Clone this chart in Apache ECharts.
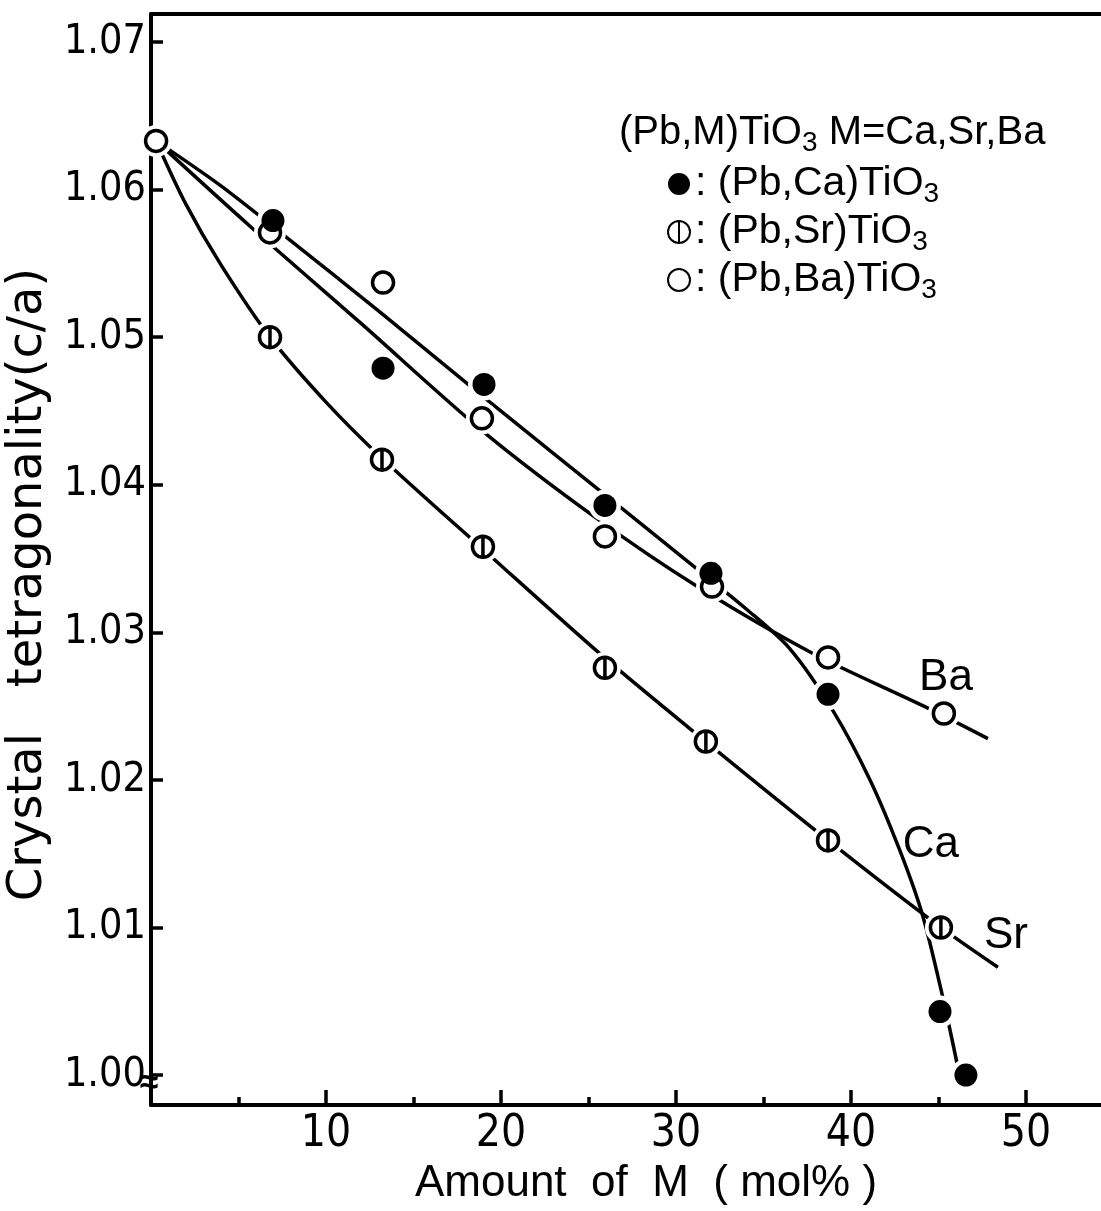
<!DOCTYPE html>
<html>
<head>
<meta charset="utf-8">
<title>(Pb,M)TiO3 tetragonality</title>
<script src="https://cdn.jsdelivr.net/npm/echarts@6/dist/echarts.min.js"></script>
<style>
  html, body { margin: 0; padding: 0; background: #fff; }
  #chart { width: 1101px; height: 1211px; }
</style>
</head>
<body>
<div id="chart"></div>
<script>
// measured points (mol %, c/a)
const caX = [6.97, 13.26, 19.03, 25.94, 32.0, 38.69, 45.09, 46.57];
const caY = [1.0579, 1.0479, 1.0468, 1.0386, 1.0340, 1.0258, 1.0043, 1.0000];
const srX = [6.8, 13.2, 18.97, 25.94, 31.71, 38.69, 45.14];
const srY = [1.0500, 1.0417, 1.0358, 1.0276, 1.0226, 1.0159, 1.0100];
const baX = [0.29, 6.8, 13.26, 18.91, 25.94, 32.06, 38.69, 45.31];
const baY = [1.0633, 1.0571, 1.0537, 1.0445, 1.0365, 1.0331, 1.0283, 1.0245];

// hand drawn guide curves
const caCurveX = [0.29, 3.94, 7.6, 13.09, 19.26, 26.91, 31.09, 34.0, 36.5, 38.97, 41.09, 42.8, 44.1, 45.3, 46.2];
const caCurveY = [1.0633, 1.0603, 1.0569, 1.0517, 1.0457, 1.0384, 1.0344, 1.0316, 1.0289, 1.0247, 1.0200, 1.0152, 1.0108, 1.0050, 1.0000];
const baCurveX = [0.29, 5.77, 11.94, 19.09, 25.49, 31.09, 37.77, 44.34, 47.83];
const baCurveY = [1.0633, 1.0574, 1.0510, 1.0435, 1.0377, 1.0332, 1.0286, 1.0249, 1.0228];
const srCurveX = [0.29, 2.0, 4.0, 6.8, 10.0, 13.2, 19.0, 25.9, 31.7, 38.7, 45.14, 48.4];
const srCurveY = [1.0633, 1.0590, 1.0549, 1.0500, 1.0456, 1.0418, 1.0356, 1.0283, 1.0226, 1.0159, 1.0100, 1.0073];

// axis ticks
const yTicks = [1.00, 1.01, 1.02, 1.03, 1.04, 1.05, 1.06, 1.07];
const xMajor = [10, 20, 30, 40, 50];
const xMinor = [5, 15, 25, 35, 45];

// curve tags
const tagNames = ['Ba', 'Ca', 'Sr'];
const tagX = [45.43, 44.57, 48.86];
const tagY = [1.0269, 1.0156, 1.0094];

const NAMES = ['(Pb,Ca)TiO3', '(Pb,Sr)TiO3', '(Pb,Ba)TiO3'];
const FONT = 'Liberation Sans, Arial, sans-serif';
const NARROW = 'Liberation Sans Narrow, DejaVu Sans Condensed, sans-serif';
const srSymbol = 'path://M10,0 A10,10 0 1,1 10,20 A10,10 0 1,1 10,0 Z M10,0 L10,20';

function pairs(xs, ys) { return xs.map((x, i) => [x, ys[i]]); }

let chart = echarts.init(document.getElementById('chart'));

function curve(xs, ys, tag) {
    let k = tagNames.indexOf(tag);
    return {
        type: 'line', data: pairs(xs, ys), showSymbol: false, smooth: 0.3,
        lineStyle: { color: '#000', width: 3.5 }, z: 2, silent: true, clip: false,
        markPoint: {
            symbol: 'circle', symbolSize: 1, itemStyle: { color: 'rgba(0,0,0,0)' },
            label: { show: true, position: 'inside', formatter: tag, color: '#000', fontSize: 44, fontFamily: FONT },
            data: [{ coord: [tagX[k], tagY[k]] }]
        }
    };
}
function halo(xs, ys) {
    return { type: 'scatter', data: pairs(xs, ys), symbol: 'circle', symbolSize: 32, itemStyle: { color: '#fff', opacity: 1 }, z: 3, silent: true, clip: false };
}

const subStyle = { fontSize: 28, lineHeight: 28, padding: [20, 0, 0, 0], fontFamily: FONT, color: '#000' };

chart.setOption({
    backgroundColor: '#fff',
    animation: false,
    grid: { left: 151, right: 0, top: 14, bottom: 106, outerBoundsMode: 'none', containLabel: false },
    title: {
        left: 614, top: 103,
        text: '(Pb,M)TiO{s|3} M=Ca,Sr,Ba',
        textStyle: {
            fontSize: 40, fontWeight: 'normal', fontFamily: FONT, color: '#000', lineHeight: 50,
            rich: { s: subStyle }
        }
    },
    legend: {
        orient: 'vertical', left: 662, top: 155, itemGap: 0, itemWidth: 22, itemHeight: 22,
        data: NAMES,
        formatter: n => ': ' + n.replace('TiO3', 'TiO{s|3}'),
        textStyle: {
            fontSize: 41, fontFamily: FONT, color: '#000', lineHeight: 48,
            rich: { s: subStyle }
        }
    },
    xAxis: [
        {
            type: 'value', min: 0, max: 54.29, position: 'bottom',
            name: 'Amount  of  M  ( mol% )', nameLocation: 'middle', nameGap: 54,
            nameTextStyle: { fontSize: 44, fontFamily: FONT, color: '#000', padding: [0, 0, 0, 40] },
            axisLine: { lineStyle: { color: '#000', width: 4 } },
            axisTick: { inside: true, length: 15, customValues: xMajor, lineStyle: { color: '#000', width: 3.5 } },
            axisLabel: { customValues: xMajor, fontSize: 44, fontFamily: NARROW, color: '#000', margin: 8 },
            splitLine: { show: false }
        },
        {
            type: 'value', min: 0, max: 54.29, position: 'bottom',
            axisLine: { show: false },
            axisTick: { inside: true, length: 8, customValues: xMinor, lineStyle: { color: '#000', width: 3.5 } },
            axisLabel: { show: false }, splitLine: { show: false }
        },
        {
            type: 'value', min: 0, max: 54.29, position: 'top',
            axisLine: { lineStyle: { color: '#000', width: 4 } },
            axisTick: { show: false }, axisLabel: { show: false }, splitLine: { show: false }
        }
    ],
    yAxis: {
        type: 'value', min: 0.99797, max: 1.0719,
        name: 'Crystal   tetragonality(c/a)', nameLocation: 'middle', nameGap: 86, nameRotate: 90,
        nameTextStyle: { fontSize: 48, fontFamily: 'DejaVu Sans, sans-serif', color: '#000', padding: [0, 50, 0, 0] },
        axisLine: { lineStyle: { color: '#000', width: 4 } },
        axisTick: { inside: true, length: 12, customValues: yTicks, lineStyle: { color: '#000', width: 3.5 } },
        axisLabel: { customValues: yTicks, formatter: v => v.toFixed(2), fontSize: 41, fontFamily: NARROW, color: '#000', margin: 5 },
        splitLine: { show: false }
    },
    series: [
        curve(caCurveX, caCurveY, 'Ca'),
        curve(baCurveX, baCurveY, 'Ba'),
        curve(srCurveX, srCurveY, 'Sr'),
        halo(baX, baY), halo(srX, srY), halo(caX, caY),
        {
            name: NAMES[2], type: 'scatter', data: pairs(baX, baY), symbol: 'circle', symbolSize: 21, z: 4, clip: false,
            itemStyle: { color: '#fff', borderColor: '#000', borderWidth: 3.5, opacity: 1 }
        },
        {
            name: NAMES[1], type: 'scatter', data: pairs(srX, srY), symbol: srSymbol, symbolSize: 21, z: 4, clip: false,
            itemStyle: { color: '#fff', borderColor: '#000', borderWidth: 3.5, opacity: 1 }
        },
        {
            name: NAMES[0], type: 'scatter', data: pairs(caX, caY), symbol: 'circle', symbolSize: 23, z: 5, clip: false,
            itemStyle: { color: '#000', opacity: 1 }
        }
    ]
});

// axis break mark at 1.00
let p = chart.convertToPixel({ gridIndex: 0 }, [0, 0.9994]);
chart.setOption({
    graphic: [{
        type: 'text', x: p[0] - 2, y: p[1], z: 10,
        style: { text: '≈', font: 'bold 34px ' + FONT, fill: '#000', align: 'center', verticalAlign: 'middle' }
    }]
});
</script>
</body>
</html>
